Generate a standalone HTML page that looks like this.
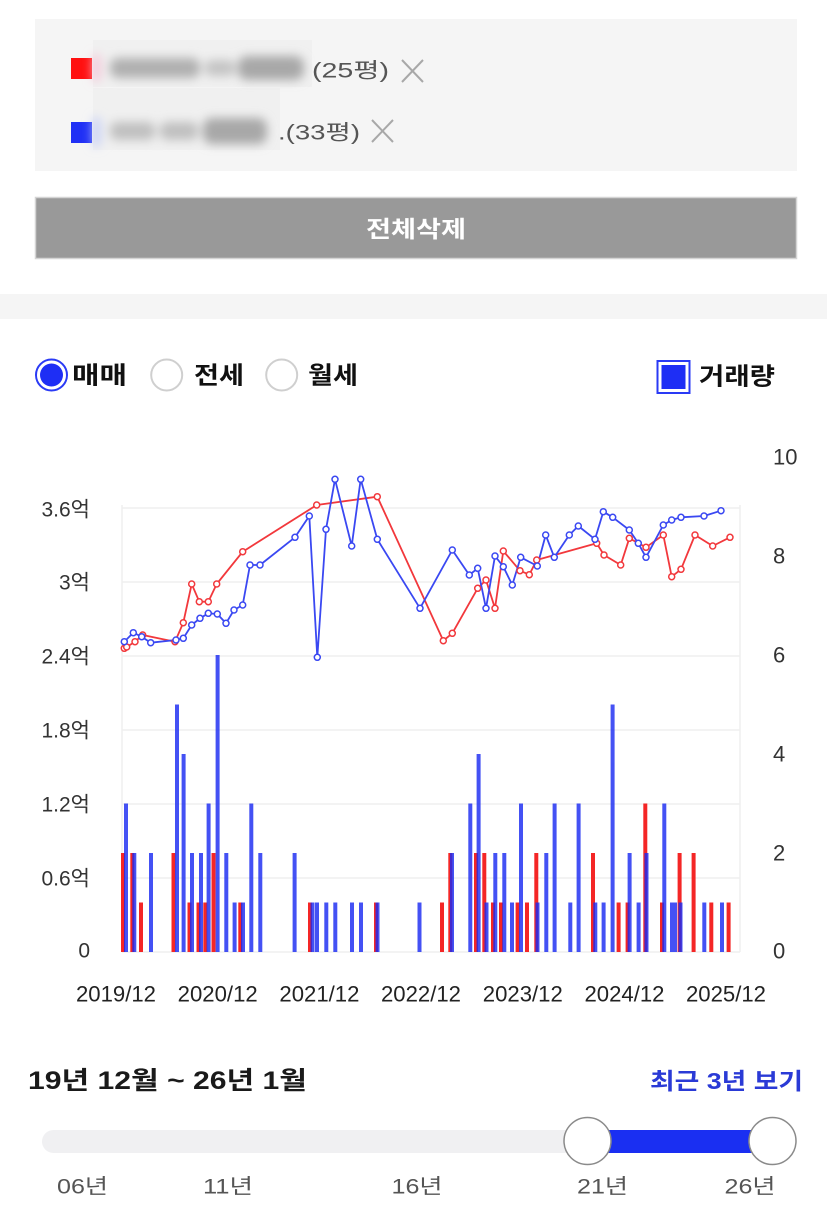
<!DOCTYPE html>
<html><head><meta charset="utf-8">
<style>
html,body{margin:0;padding:0;background:#fff;}
svg{display:block;}
text{font-family:"Liberation Sans","Noto Sans CJK KR",sans-serif;}
</style></head>
<body>
<svg width="827" height="1219" viewBox="0 0 827 1219" xmlns="http://www.w3.org/2000/svg">
<defs>
<filter id="bl" x="-20%" y="-60%" width="140%" height="220%"><feGaussianBlur stdDeviation="5"/></filter>
</defs>
<rect x="0" y="0" width="827" height="1219" fill="#fff"/>
<rect x="35" y="19" width="762" height="152" fill="#f5f5f5"/>
<rect x="71" y="58" width="21" height="21" fill="#ff1010"/>
<rect x="71" y="122" width="21" height="21" fill="#2030f5"/>
<rect x="93" y="40" width="219" height="47" fill="#f0f0f0"/>
<rect x="93" y="88" width="187" height="62" fill="#f0f0f0"/>
<g filter="url(#bl)">
<rect x="110" y="58" width="90" height="20" rx="8" fill="#b0b0b0"/>
<rect x="205" y="60" width="30" height="16" rx="6" fill="#c4c4c4"/>
<rect x="238" y="56" width="66" height="24" rx="9" fill="#a8a8a8"/>
<rect x="110" y="122" width="45" height="18" rx="7" fill="#c0c0c0"/>
<rect x="160" y="122" width="38" height="18" rx="7" fill="#c0c0c0"/>
<rect x="203" y="118" width="64" height="26" rx="9" fill="#a8a8a8"/>
<rect x="93" y="55" width="7" height="26" fill="#f4c0d4"/>
<rect x="93" y="118" width="7" height="28" fill="#c0caf6"/>
</g>
<text x="312" y="71" dominant-baseline="central" font-size="21" fill="#555" textLength="77" lengthAdjust="spacingAndGlyphs">(25평)</text>
<text x="278" y="133" dominant-baseline="central" font-size="21" fill="#555" textLength="82" lengthAdjust="spacingAndGlyphs">.(33평)</text>
<g stroke="#a8a8a8" stroke-width="2">
<line x1="402" y1="60" x2="423" y2="82"/><line x1="423" y1="60" x2="402" y2="82"/>
<line x1="372" y1="120" x2="393" y2="142"/><line x1="393" y1="120" x2="372" y2="142"/>
</g>
<rect x="35.5" y="197.5" width="761" height="61" fill="#999" stroke="#d4d4d4" stroke-width="1.5"/>
<text x="416" y="229" text-anchor="middle" dominant-baseline="central" font-size="23" font-weight="bold" fill="#fff" textLength="100" lengthAdjust="spacingAndGlyphs">전체삭제</text>
<rect x="0" y="294" width="827" height="25" fill="#f5f5f5"/>
<circle cx="51.5" cy="375" r="15.5" fill="#fff" stroke="#2a3af5" stroke-width="2"/>
<circle cx="51.5" cy="375" r="11.5" fill="#1e2ef5"/>
<text x="72" y="376" dominant-baseline="central" font-size="24" font-weight="bold" fill="#111" textLength="55" lengthAdjust="spacingAndGlyphs">매매</text>
<circle cx="166.7" cy="375" r="15.5" fill="#fff" stroke="#cfcfcf" stroke-width="2"/>
<text x="194" y="376" dominant-baseline="central" font-size="24" font-weight="bold" fill="#111" textLength="50" lengthAdjust="spacingAndGlyphs">전세</text>
<circle cx="281.7" cy="375" r="15.5" fill="#fff" stroke="#cfcfcf" stroke-width="2"/>
<text x="308" y="376" dominant-baseline="central" font-size="24" font-weight="bold" fill="#111" textLength="50" lengthAdjust="spacingAndGlyphs">월세</text>
<rect x="657.5" y="361" width="32" height="32" fill="#fff" stroke="#2a3af5" stroke-width="2"/>
<rect x="661.5" y="365" width="24" height="24" fill="#1e2ef5"/>
<text x="699" y="377" dominant-baseline="central" font-size="24" font-weight="bold" fill="#111" textLength="76" lengthAdjust="spacingAndGlyphs">거래량</text>
<g stroke="#efefef" stroke-width="1.5">
<line x1="122" y1="508" x2="740" y2="508"/>
<line x1="122" y1="582" x2="740" y2="582"/>
<line x1="122" y1="656" x2="740" y2="656"/>
<line x1="122" y1="730" x2="740" y2="730"/>
<line x1="122" y1="804" x2="740" y2="804"/>
<line x1="122" y1="878" x2="740" y2="878"/>
<line x1="122" y1="952" x2="740" y2="952"/>
<line x1="122" y1="505" x2="122" y2="952"/>
<line x1="740" y1="505" x2="740" y2="952"/>
</g>
<g font-size="21" fill="#333" text-anchor="end" dominant-baseline="central">
<text x="90" y="510">3.6억</text>
<text x="90" y="583">3억</text>
<text x="90" y="657">2.4억</text>
<text x="90" y="731">1.8억</text>
<text x="90" y="805">1.2억</text>
<text x="90" y="879">0.6억</text>
<text x="90" y="951">0</text>
</g>
<g font-size="22" fill="#333" dominant-baseline="central">
<text x="773" y="457">10</text>
<text x="773" y="556">8</text>
<text x="773" y="655">6</text>
<text x="773" y="754">4</text>
<text x="773" y="853">2</text>
<text x="773" y="951">0</text>
</g>
<g font-size="22" fill="#222" text-anchor="middle" dominant-baseline="central">
<text x="116" y="994" textLength="80" lengthAdjust="spacingAndGlyphs">2019/12</text>
<text x="217.7" y="994" textLength="80" lengthAdjust="spacingAndGlyphs">2020/12</text>
<text x="319.4" y="994" textLength="80" lengthAdjust="spacingAndGlyphs">2021/12</text>
<text x="421" y="994" textLength="80" lengthAdjust="spacingAndGlyphs">2022/12</text>
<text x="522.8" y="994" textLength="80" lengthAdjust="spacingAndGlyphs">2023/12</text>
<text x="624.5" y="994" textLength="80" lengthAdjust="spacingAndGlyphs">2024/12</text>
<text x="726" y="994" textLength="80" lengthAdjust="spacingAndGlyphs">2025/12</text>
</g>
<g fill="#f42626">
<rect x="121" y="853" width="4" height="99"/>
<rect x="130.3" y="853" width="4" height="99"/>
<rect x="139" y="902.5" width="4" height="49.5"/>
<rect x="171.5" y="853" width="4" height="99"/>
<rect x="187.5" y="902.5" width="4" height="49.5"/>
<rect x="196.5" y="902.5" width="4" height="49.5"/>
<rect x="203.3" y="902.5" width="4" height="49.5"/>
<rect x="211.5" y="853" width="4" height="99"/>
<rect x="238.3" y="902.5" width="4" height="49.5"/>
<rect x="308" y="902.5" width="4" height="49.5"/>
<rect x="374" y="902.5" width="4" height="49.5"/>
<rect x="440" y="902.5" width="4" height="49.5"/>
<rect x="448.3" y="853" width="4" height="99"/>
<rect x="474" y="853" width="4" height="99"/>
<rect x="482.3" y="853" width="4" height="99"/>
<rect x="491" y="902.5" width="4" height="49.5"/>
<rect x="499" y="902.5" width="4" height="49.5"/>
<rect x="515.6" y="902.5" width="4" height="49.5"/>
<rect x="525" y="902.5" width="4" height="49.5"/>
<rect x="534.3" y="853" width="4" height="99"/>
<rect x="591" y="853" width="4" height="99"/>
<rect x="616.6" y="902.5" width="4" height="49.5"/>
<rect x="625.6" y="902.5" width="4" height="49.5"/>
<rect x="643.3" y="803.5" width="4" height="148.5"/>
<rect x="660" y="902.5" width="4" height="49.5"/>
<rect x="677.6" y="853" width="4" height="99"/>
<rect x="691.6" y="853" width="4" height="99"/>
<rect x="709.3" y="902.5" width="4" height="49.5"/>
<rect x="726.6" y="902.5" width="4" height="49.5"/>
</g>
<g fill="#1c2cf2" opacity="0.82">
<rect x="124" y="803.5" width="4" height="148.5"/>
<rect x="132.3" y="853" width="4" height="99"/>
<rect x="149" y="853" width="4" height="99"/>
<rect x="175" y="704.5" width="4" height="247.5"/>
<rect x="181.6" y="754" width="4" height="198"/>
<rect x="190" y="853" width="4" height="99"/>
<rect x="199" y="853" width="4" height="99"/>
<rect x="206.6" y="803.5" width="4" height="148.5"/>
<rect x="215.6" y="655" width="4" height="297"/>
<rect x="224.3" y="853" width="4" height="99"/>
<rect x="232.6" y="902.5" width="4" height="49.5"/>
<rect x="241" y="902.5" width="4" height="49.5"/>
<rect x="249.3" y="803.5" width="4" height="148.5"/>
<rect x="258.3" y="853" width="4" height="99"/>
<rect x="292.6" y="853" width="4" height="99"/>
<rect x="310.5" y="902.5" width="4" height="49.5"/>
<rect x="315" y="902.5" width="4" height="49.5"/>
<rect x="324.3" y="902.5" width="4" height="49.5"/>
<rect x="333.3" y="902.5" width="4" height="49.5"/>
<rect x="350" y="902.5" width="4" height="49.5"/>
<rect x="359" y="902.5" width="4" height="49.5"/>
<rect x="375.5" y="902.5" width="4" height="49.5"/>
<rect x="417.5" y="902.5" width="4" height="49.5"/>
<rect x="450" y="853" width="4" height="99"/>
<rect x="468.3" y="803.5" width="4" height="148.5"/>
<rect x="476.6" y="754" width="4" height="198"/>
<rect x="484.5" y="902.5" width="4" height="49.5"/>
<rect x="493.3" y="853" width="4" height="99"/>
<rect x="502.3" y="853" width="4" height="99"/>
<rect x="510" y="902.5" width="4" height="49.5"/>
<rect x="519" y="803.5" width="4" height="148.5"/>
<rect x="535.5" y="902.5" width="4" height="49.5"/>
<rect x="544.3" y="853" width="4" height="99"/>
<rect x="552.6" y="803.5" width="4" height="148.5"/>
<rect x="568.3" y="902.5" width="4" height="49.5"/>
<rect x="576.6" y="803.5" width="4" height="148.5"/>
<rect x="593.3" y="902.5" width="4" height="49.5"/>
<rect x="601.6" y="902.5" width="4" height="49.5"/>
<rect x="610.6" y="704.5" width="4" height="247.5"/>
<rect x="627.6" y="853" width="4" height="99"/>
<rect x="636.6" y="902.5" width="4" height="49.5"/>
<rect x="644.5" y="853" width="4" height="99"/>
<rect x="662.3" y="803.5" width="4" height="148.5"/>
<rect x="670" y="902.5" width="4" height="49.5"/>
<rect x="673" y="902.5" width="4" height="49.5"/>
<rect x="678.5" y="902.5" width="4" height="49.5"/>
<rect x="702.3" y="902.5" width="4" height="49.5"/>
<rect x="720" y="902.5" width="4" height="49.5"/>
</g>
<polyline fill="none" stroke="#f2383c" stroke-width="1.8" stroke-linejoin="round" points="124.3,648.3 126.7,647 135,641.7 142.7,635 175,641.7 183.3,622.7 191.7,584 199.3,601.7 208.3,601.7 216.7,584 242.7,551.7 316.7,505 377.3,496.7 443.3,640.7 452.3,633.3 477.7,588.3 486,580 495,608.3 503.3,551 520,570.7 529.3,574.7 536.7,560 596.7,543.3 604,555 620.7,565 629.3,538.3 646,547.3 663.3,535 671.7,576.7 681,569.3 695,535 712.7,546 730,537.3"/>
<polyline fill="none" stroke="#3a48f2" stroke-width="1.8" stroke-linejoin="round" points="124.3,641.7 133.3,632.7 141.7,636.7 150.7,642.7 176,640 183.3,638.3 191.7,625 200,618.3 208.3,613.3 217.3,614 226,623.3 234,610 242.7,605 250,565 260,565 295,537.3 309.3,516 317.3,657.3 326,529.3 335,479.3 351.7,546 360.7,479.3 377.3,539.3 420,608.3 452.3,550 469.3,575 477.7,568.3 486,608.3 495,556 503.3,566.7 512.3,585 520.7,557.3 537.3,566 545.7,535 554.3,557.3 569.3,535 578.3,526 595,539.3 603.3,511.7 612.7,517.3 629.3,530 638.3,543.3 646,557.3 663.3,525 671.7,520 681,517.3 704,516 721,510.7"/>
<g fill="#fff" stroke="#f2383c" stroke-width="1.5">
<circle cx="124.3" cy="648.3" r="3"/><circle cx="126.7" cy="647" r="3"/><circle cx="135" cy="641.7" r="3"/><circle cx="142.7" cy="635" r="3"/><circle cx="175" cy="641.7" r="3"/><circle cx="183.3" cy="622.7" r="3"/><circle cx="191.7" cy="584" r="3"/><circle cx="199.3" cy="601.7" r="3"/><circle cx="208.3" cy="601.7" r="3"/><circle cx="216.7" cy="584" r="3"/><circle cx="242.7" cy="551.7" r="3"/><circle cx="316.7" cy="505" r="3"/><circle cx="377.3" cy="496.7" r="3"/><circle cx="443.3" cy="640.7" r="3"/><circle cx="452.3" cy="633.3" r="3"/><circle cx="477.7" cy="588.3" r="3"/><circle cx="486" cy="580" r="3"/><circle cx="495" cy="608.3" r="3"/><circle cx="503.3" cy="551" r="3"/><circle cx="520" cy="570.7" r="3"/><circle cx="529.3" cy="574.7" r="3"/><circle cx="536.7" cy="560" r="3"/><circle cx="596.7" cy="543.3" r="3"/><circle cx="604" cy="555" r="3"/><circle cx="620.7" cy="565" r="3"/><circle cx="629.3" cy="538.3" r="3"/><circle cx="646" cy="547.3" r="3"/><circle cx="663.3" cy="535" r="3"/><circle cx="671.7" cy="576.7" r="3"/><circle cx="681" cy="569.3" r="3"/><circle cx="695" cy="535" r="3"/><circle cx="712.7" cy="546" r="3"/><circle cx="730" cy="537.3" r="3"/>
</g>
<g fill="#fff" stroke="#3a48f2" stroke-width="1.5">
<circle cx="124.3" cy="641.7" r="3"/><circle cx="133.3" cy="632.7" r="3"/><circle cx="141.7" cy="636.7" r="3"/><circle cx="150.7" cy="642.7" r="3"/><circle cx="176" cy="640" r="3"/><circle cx="183.3" cy="638.3" r="3"/><circle cx="191.7" cy="625" r="3"/><circle cx="200" cy="618.3" r="3"/><circle cx="208.3" cy="613.3" r="3"/><circle cx="217.3" cy="614" r="3"/><circle cx="226" cy="623.3" r="3"/><circle cx="234" cy="610" r="3"/><circle cx="242.7" cy="605" r="3"/><circle cx="250" cy="565" r="3"/><circle cx="260" cy="565" r="3"/><circle cx="295" cy="537.3" r="3"/><circle cx="309.3" cy="516" r="3"/><circle cx="317.3" cy="657.3" r="3"/><circle cx="326" cy="529.3" r="3"/><circle cx="335" cy="479.3" r="3"/><circle cx="351.7" cy="546" r="3"/><circle cx="360.7" cy="479.3" r="3"/><circle cx="377.3" cy="539.3" r="3"/><circle cx="420" cy="608.3" r="3"/><circle cx="452.3" cy="550" r="3"/><circle cx="469.3" cy="575" r="3"/><circle cx="477.7" cy="568.3" r="3"/><circle cx="486" cy="608.3" r="3"/><circle cx="495" cy="556" r="3"/><circle cx="503.3" cy="566.7" r="3"/><circle cx="512.3" cy="585" r="3"/><circle cx="520.7" cy="557.3" r="3"/><circle cx="537.3" cy="566" r="3"/><circle cx="545.7" cy="535" r="3"/><circle cx="554.3" cy="557.3" r="3"/><circle cx="569.3" cy="535" r="3"/><circle cx="578.3" cy="526" r="3"/><circle cx="595" cy="539.3" r="3"/><circle cx="603.3" cy="511.7" r="3"/><circle cx="612.7" cy="517.3" r="3"/><circle cx="629.3" cy="530" r="3"/><circle cx="638.3" cy="543.3" r="3"/><circle cx="646" cy="557.3" r="3"/><circle cx="663.3" cy="525" r="3"/><circle cx="671.7" cy="520" r="3"/><circle cx="681" cy="517.3" r="3"/><circle cx="704" cy="516" r="3"/><circle cx="721" cy="510.7" r="3"/>
</g>
<text x="28" y="1081" dominant-baseline="central" font-size="25" font-weight="bold" fill="#1a1a1a" textLength="279" lengthAdjust="spacingAndGlyphs">19년 12월 ~ 26년 1월</text>
<text x="650" y="1081" dominant-baseline="central" font-size="23" font-weight="bold" fill="#2a3ad6" textLength="153" lengthAdjust="spacingAndGlyphs">최근 3년 보기</text>
<rect x="42" y="1130" width="740" height="23" rx="11.5" fill="#f0f0f2"/>
<rect x="588" y="1130" width="185" height="23" fill="#1a2ff2"/>
<circle cx="587.5" cy="1141" r="23.5" fill="#fff" stroke="#8a8a8a" stroke-width="1.5"/>
<circle cx="772.5" cy="1141" r="23.5" fill="#fff" stroke="#8a8a8a" stroke-width="1.5"/>
<g font-size="21" fill="#555" text-anchor="middle" dominant-baseline="central">
<text x="82.5" y="1187" textLength="51" lengthAdjust="spacingAndGlyphs">06년</text>
<text x="228" y="1187" textLength="50" lengthAdjust="spacingAndGlyphs">11년</text>
<text x="417" y="1187" textLength="51" lengthAdjust="spacingAndGlyphs">16년</text>
<text x="602.5" y="1187" textLength="51" lengthAdjust="spacingAndGlyphs">21년</text>
<text x="750" y="1187" textLength="51" lengthAdjust="spacingAndGlyphs">26년</text>
</g>
</svg>
</body></html>
